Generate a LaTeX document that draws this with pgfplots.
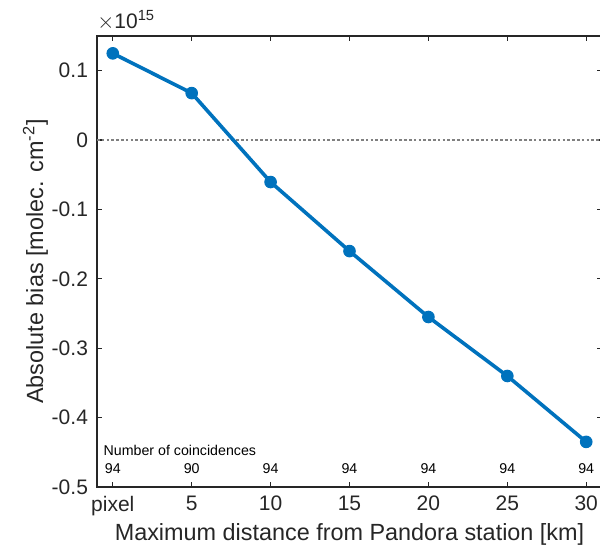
\documentclass[border=0pt]{standalone}
\usepackage{fontspec}
\setmainfont{Liberation Sans}
\usepackage{pgfplots}
\pgfplotsset{compat=1.18}
\definecolor{mblue}{RGB}{0,114,189}
\definecolor{axgray}{RGB}{38,38,38}

\begin{document}
\begin{tikzpicture}
\begin{axis}[
  name=ax,
  scale only axis,
  width=252.5pt, height=225.5pt,
  xmin=-0.2, xmax=6.2,
  ymin=-0.5, ymax=0.15,
  xtick={0,...,6},
  xticklabels={pixel,5,10,15,20,25,30},
  ytick={-0.5,-0.4,-0.3,-0.2,-0.1,0,0.1},
  yticklabels={-0.5,-0.4,-0.3,-0.2,-0.1,0,0.1},
  tick align=inside,
  major tick length=2.5pt,
  axis line style={draw=black!85, line width=1.2pt},
  every tick/.style={axgray, line width=0.6pt},
  tick label style={font=\fontsize{10.5}{12}\selectfont, text=axgray},
  xticklabel style={yshift=-1pt},
  yticklabel style={xshift=-1pt},
  label style={font=\fontsize{11.7}{13}\selectfont, text=axgray},
  xlabel={Maximum distance from Pandora station [km]},
  ylabel={Absolute bias [molec. cm\textsuperscript{-2}]},
  xlabel style={yshift=3pt},
  ylabel style={yshift=-5pt},
  clip=false,
]
\addplot[gray, line width=1.4pt, dash pattern=on 1.3pt off 1.1pt, forget plot] coordinates {(-0.2,0) (6.2,0)};
\addplot[mblue, line width=1.8pt, mark=*, mark size=2.9pt, mark options={fill=mblue, draw=mblue, line width=0.5pt}] coordinates {
  (0,0.125)
  (1,0.0677)
  (2,-0.0605)
  (3,-0.160)
  (4,-0.255)
  (5,-0.340)
  (6,-0.435)
};
\node[anchor=west, font=\fontsize{7.1}{8}\selectfont, text=black, inner sep=0pt] at (axis cs:-0.12,-0.448) {Number of coincidences};
\node[font=\fontsize{7.1}{8}\selectfont, inner sep=0pt] at (axis cs:0,-0.473) {94};
\node[font=\fontsize{7.1}{8}\selectfont, inner sep=0pt] at (axis cs:1,-0.473) {90};
\node[font=\fontsize{7.1}{8}\selectfont, inner sep=0pt] at (axis cs:2,-0.473) {94};
\node[font=\fontsize{7.1}{8}\selectfont, inner sep=0pt] at (axis cs:3,-0.473) {94};
\node[font=\fontsize{7.1}{8}\selectfont, inner sep=0pt] at (axis cs:4,-0.473) {94};
\node[font=\fontsize{7.1}{8}\selectfont, inner sep=0pt] at (axis cs:5,-0.473) {94};
\node[font=\fontsize{7.1}{8}\selectfont, inner sep=0pt] at (axis cs:6,-0.473) {94};
\node[anchor=south west, font=\fontsize{10.5}{12}\selectfont, text=axgray, inner sep=0pt] at (rel axis cs:0,1.012) {$\times$10\textsuperscript{15}};
\end{axis}
\pgfresetboundingbox
\path[use as bounding box] ([shift={(-48.5pt,-34pt)}]ax.south west) rectangle ([shift={(251.5pt,243.5pt)}]ax.south west);
\end{tikzpicture}
\end{document}
